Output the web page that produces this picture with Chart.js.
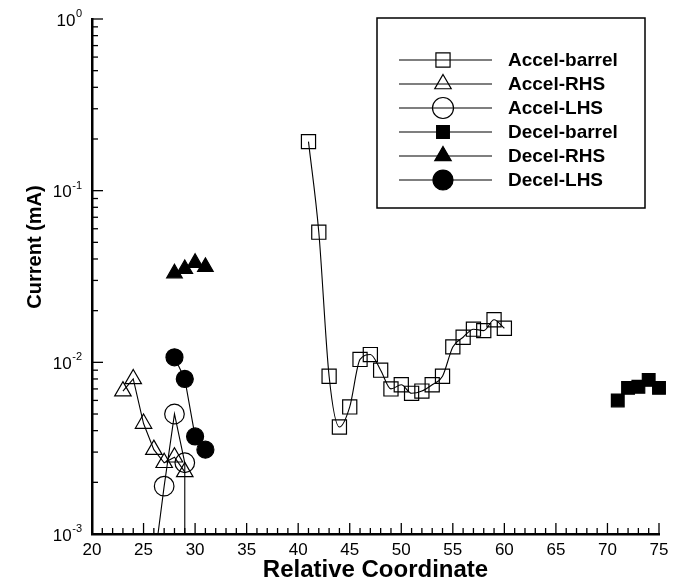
<!DOCTYPE html>
<html><head><meta charset="utf-8">
<script src="https://cdn.jsdelivr.net/npm/chart.js@4/dist/chart.umd.min.js"></script>
<style>html,body{margin:0;padding:0;background:#fff;} #wrap{width:673px;height:587px;position:relative;}</style>
</head><body><div id="wrap"><canvas id="c" width="673" height="587"></canvas></div>
<script>
// ---- data ----
const seriesNames = ['Accel-barrel','Accel-RHS','Accel-LHS','Decel-barrel','Decel-RHS','Decel-LHS'];
const accelBarrelX = [41,42,43,44,45,46,47,48,49,50,51,52,53,54,55,56,57,58,59,60];
const accelBarrelY = [0.193,0.0573,0.0083,0.0042,0.0055,0.0104,0.0111,0.0090,0.0070,0.0074,0.0066,0.0068,0.0074,0.0083,0.0123,0.0140,0.0156,0.0153,0.0177,0.0158];
const accelRhsX = [23,24,25,26,27,28,29];
const accelRhsY = [0.0068,0.0080,0.0044,0.0031,0.0026,0.0028,0.0023];
const accelLhsX = [26,27,28,29,29];
const accelLhsY = [0.00065,0.0019,0.0050,0.0026,0.0001];
const decelBarrelX = [71,72,73,74,75];
const decelBarrelY = [0.0060,0.0071,0.0072,0.0079,0.0071];
const decelRhsX = [28,29,30,31];
const decelRhsY = [0.033,0.035,0.038,0.036];
const decelLhsX = [28,29,30,31];
const decelLhsY = [0.0107,0.0080,0.0037,0.0031];
const xTickValues = [20,25,30,35,40,45,50,55,60,65,70,75];
const yDecades = [0,-1,-2,-3];

function pts(xs, ys){ return xs.map((x,i)=>({x:x,y:ys[i]})); }

const FONT = '"Liberation Sans", Arial, Helvetica, sans-serif';
const clipOpt = {left:15, top:15, right:15, bottom:0};
function ds(label, xs, ys, style, radius, filled, extra){
  return Object.assign({
    label: label, data: pts(xs, ys),
    borderColor:'#000', borderWidth:1.1,
    pointStyle: style, pointRadius: radius, pointHoverRadius: radius,
    pointBorderColor:'#000', pointBorderWidth:1.2,
    pointBackgroundColor: filled ? '#000' : 'rgba(0,0,0,0)',
    tension:0, clip: clipOpt, showLine:true
  }, extra || {});
}

const datasets = [
  ds(seriesNames[0], accelBarrelX, accelBarrelY, 'rect', 10, false, {cubicInterpolationMode:'monotone'}),
  ds(seriesNames[1], accelRhsX, accelRhsY, 'triangle', 9.5, false),
  ds(seriesNames[2], accelLhsX, accelLhsY, 'circle', 9.8, false),
  ds(seriesNames[3], decelBarrelX, decelBarrelY, 'rect', 9, true),
  ds(seriesNames[4], decelRhsX, decelRhsY, 'triangle', 9, true),
  ds(seriesNames[5], decelLhsX, decelLhsY, 'circle', 8.5, true)
];
const legendRadius = [10, 9.5, 10.5, 9, 9.5, 10];

const decorPlugin = {
  id:'decor',
  afterDraw(chart){
    const ctx = chart.ctx, xs = chart.scales.x, ys = chart.scales.y;
    const a = chart.chartArea;
    ctx.save();
    ctx.strokeStyle = '#000'; ctx.lineWidth = 1.3;
    for (let v = 20; v <= 75; v++){
      const px = xs.getPixelForValue(v);
      const len = (v % 5 === 0) ? 11 : 6;
      ctx.beginPath(); ctx.moveTo(px, a.bottom); ctx.lineTo(px, a.bottom - len); ctx.stroke();
    }
    for (const e of yDecades){
      const base = Math.pow(10, e);
      const py = ys.getPixelForValue(base);
      ctx.beginPath(); ctx.moveTo(a.left, py); ctx.lineTo(a.left + 11, py); ctx.stroke();
      if (e < 0){
        for (let m = 2; m <= 9; m++){
          const pm = ys.getPixelForValue(base * m);
          ctx.beginPath(); ctx.moveTo(a.left, pm); ctx.lineTo(a.left + 6, pm); ctx.stroke();
        }
      }
    }
    ctx.fillStyle = '#000';
    for (const e of yDecades){
      const py = ys.getPixelForValue(Math.pow(10, e));
      const expStr = e === 0 ? '0' : '-' + (-e);
      ctx.font = '11px ' + FONT;
      const ew = ctx.measureText(expStr).width;
      const right = 82;
      ctx.textAlign = 'right'; ctx.textBaseline = 'alphabetic';
      ctx.fillText(expStr, right, py - 2);
      ctx.font = '17px ' + FONT; ctx.textBaseline = 'middle';
      ctx.fillText('10', right - ew - 0.5, py + 2);
    }
    ctx.save();
    ctx.translate(35, 247); ctx.rotate(-Math.PI/2);
    ctx.font = 'bold 20px ' + FONT; ctx.textAlign = 'center'; ctx.textBaseline = 'middle';
    ctx.fillText('Current (mA)', 0, 0);
    ctx.restore();
    const L = {left:377, top:18, right:645, bottom:208};
    ctx.lineWidth = 1.5;
    ctx.strokeRect(L.left, L.top, L.right - L.left, L.bottom - L.top);
    chart.data.datasets.forEach((d, i) => {
      const y = 60 + 24 * i;
      ctx.lineWidth = 1.1; ctx.strokeStyle = '#000';
      ctx.beginPath(); ctx.moveTo(399, y); ctx.lineTo(492, y); ctx.stroke();
      ctx.fillStyle = d.pointBackgroundColor;
      ctx.lineWidth = 1.2;
      Chart.helpers.drawPoint(ctx, {pointStyle: d.pointStyle, radius: legendRadius[i], borderWidth: 1.2, rotation: 0}, 443, y);
      if (d.pointBackgroundColor === '#000') ctx.fill();
      ctx.fillStyle = '#000';
      ctx.font = 'bold 19px ' + FONT; ctx.textAlign = 'left'; ctx.textBaseline = 'middle';
      ctx.fillText(d.label, 508, y + 1);
    });
    ctx.restore();
  }
};

new Chart(document.getElementById('c'), {
  type:'line',
  data:{ datasets: datasets },
  options:{
    responsive:false, animation:false,
    layout:{ padding:{ left:0, top:19, right:14, bottom:0 } },
    plugins:{ legend:{display:false}, tooltip:{enabled:false} },
    scales:{
      x:{
        type:'linear', min:20, max:75,
        afterBuildTicks(s){ s.ticks = xTickValues.map(v=>({value:v})); },
        afterFit(s){ s.height = 53; s.paddingLeft = 0; s.paddingRight = 0; },
        grid:{ display:false, drawTicks:false },
        border:{ display:true, width:2.5, color:'#000' },
        ticks:{ color:'#000', font:{ family:FONT, size:17 }, padding:6, maxRotation:0, autoSkip:false },
        title:{ display:true, text:'Relative Coordinate', color:'#000', font:{ family:FONT, size:24, weight:'bold' }, padding:{ top:0, bottom:2 } }
      },
      y:{
        type:'logarithmic', min:0.001, max:1,
        afterFit(s){ s.width = 92; s.paddingTop = 0; s.paddingBottom = 0; },
        grid:{ display:false, drawTicks:false },
        border:{ display:true, width:2.5, color:'#000' },
        ticks:{ display:false }
      }
    }
  },
  plugins:[decorPlugin]
});
</script>
</body></html>
